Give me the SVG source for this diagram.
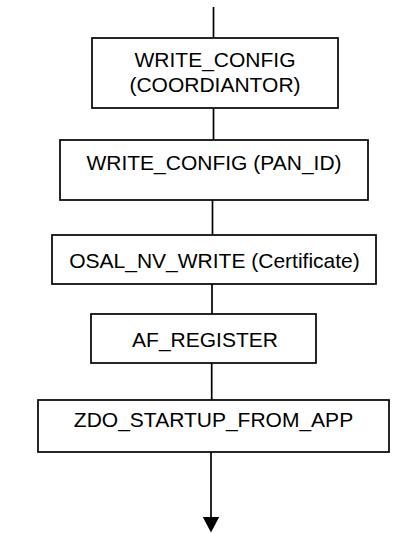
<svg xmlns="http://www.w3.org/2000/svg" width="414" height="533" viewBox="0 0 414 533">
  <style>
    .box { fill: #ffffff; stroke: #000000; stroke-width: 1.7; }
    .wire { fill: none; stroke: #000000; stroke-width: 1.7; }
    .label { font-family: "Liberation Sans", Arial, sans-serif; font-size: 21px; fill: #000000; text-anchor: middle; }
  </style>

  <!-- vertical flow connectors and the final arrow -->
  <g id="connectors">
    <line class="wire" x1="213.5" y1="7" x2="213.5" y2="38"/>
    <line class="wire" x1="213.5" y1="108" x2="213.5" y2="140"/>
    <line class="wire" x1="212.5" y1="200" x2="212.5" y2="235"/>
    <line class="wire" x1="212" y1="284" x2="212" y2="314"/>
    <line class="wire" x1="211.7" y1="363" x2="211.7" y2="400"/>
    <line class="wire" x1="211" y1="452" x2="211" y2="518"/>
    <path d="M202.8,517 L219.2,517 L211,532.5 Z" fill="#000000"/>
  </g>

  <g id="write-config-coordinator">
    <rect class="box" x="92" y="38" width="246" height="70"/>
    <text class="label" x="215" y="67">WRITE_CONFIG</text>
    <text class="label" x="215" y="92">(COORDIANTOR)</text>
  </g>

  <g id="write-config-pan-id">
    <rect class="box" x="60" y="140" width="308" height="60"/>
    <text class="label" x="214" y="169.5">WRITE_CONFIG (PAN_ID)</text>
  </g>

  <g id="osal-nv-write">
    <rect class="box" x="52" y="235" width="324" height="49"/>
    <text class="label" x="214.5" y="267.5">OSAL_NV_WRITE (Certificate)</text>
  </g>

  <g id="af-register">
    <rect class="box" x="91" y="314" width="225" height="49"/>
    <text class="label" x="205" y="347">AF_REGISTER</text>
  </g>

  <g id="zdo-startup-from-app">
    <rect class="box" x="38" y="400" width="351" height="52"/>
    <text class="label" x="213.5" y="427">ZDO_STARTUP_FROM_APP</text>
  </g>
</svg>
